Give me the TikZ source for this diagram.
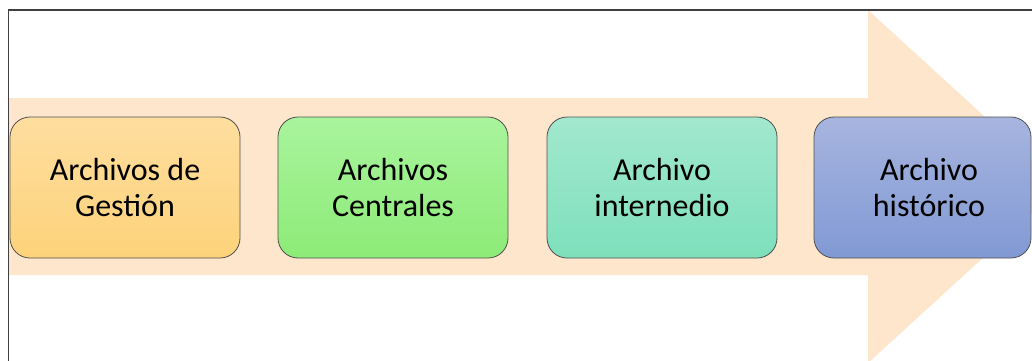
\documentclass[tikz,border=0pt]{standalone}
\usepackage{fontspec}
\setmainfont{Carlito}
\usetikzlibrary{shadings}
\definecolor{peach}{HTML}{FDE6CC}
\definecolor{frameg}{HTML}{404040}
\definecolor{boxline}{HTML}{505050}
\definecolor{atop}{HTML}{FEDE9F}
\definecolor{abot}{HTML}{FDD27A}
\definecolor{btop}{HTML}{A9F49D}
\definecolor{bbot}{HTML}{8DEB77}
\definecolor{ctop}{HTML}{A2E8CE}
\definecolor{cbot}{HTML}{7EE0BC}
\definecolor{dtop}{HTML}{A7B5DF}
\definecolor{dbot}{HTML}{8199D4}
\tikzset{
  stagefont/.style={font=\fontsize{32}{36}\selectfont},
  stage/.style={rectangle, rounded corners=20pt, draw=boxline, line width=0.8pt,
    minimum height=141pt, inner sep=0pt, align=center, stagefont, text=black},
}
\begin{document}
\begin{tikzpicture}[x=1pt,y=1pt]
\useasboundingbox (0,0) rectangle (1032,-360);
\clip (0,0) rectangle (1032,-360);
\fill[white] (0,0) rectangle (1032,-360);
% big arrow
\fill[peach] (9,-98) -- (868,-98) -- (868,-10) -- (1061,-186.5) -- (868,-363)
  -- (868,-275) -- (9,-275) -- cycle;
% frame
\draw[frameg, line width=1.6pt] (8.5,-365) -- (8.5,-10) -- (1040,-10);
% stages
\node[stage, minimum width=230pt, top color=atop, bottom color=abot] (s1) at (125,-187.5) {Archivos de\\Gestión};
\node[stage, minimum width=230pt, top color=btop, bottom color=bbot] (s2) at (393,-187.5) {Archivos\\Centrales};
\node[stage, minimum width=230pt, top color=ctop, bottom color=cbot] (s3) at (662,-187.5) {Archivo\\internedio};
\node[stage, minimum width=217pt, top color=dtop, bottom color=dbot] (s4) at (922.5,-187.5) {};
\node[stagefont, align=center] (t4) at (929,-187.5) {Archivo\\histórico};
\end{tikzpicture}
\end{document}
